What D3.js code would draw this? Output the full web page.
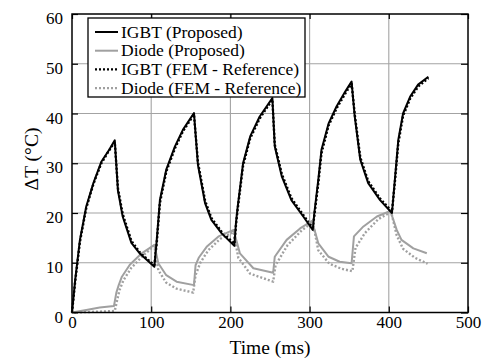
<!DOCTYPE html>
<html>
<head>
<meta charset="utf-8">
<script src="https://cdn.jsdelivr.net/npm/d3@7"></script>
<style>
  body { margin: 0; background: #fff; }
  svg text { font-family: "Liberation Serif", "Times New Roman", serif; }
</style>
</head>
<body>
<svg width="489" height="358"></svg>
<script>
// data: [time (ms), deltaT (C)]
let igbtProposed = [[0, 0], [4, 6.5], [10, 14.6], [18, 21.3], [27, 26], [37, 30.3], [47, 32.7], [54, 34.6],
    [58, 24.5], [64, 19.3], [75, 14], [86, 11.8], [104, 9.2],
    [107, 14.6], [111, 22.6], [119, 28.7], [130, 33.4], [140, 36.7], [154, 40.1],
    [159, 29.7], [168, 22], [176, 18.6], [189, 15.9], [205, 13.4],
    [207, 18], [209, 21], [216, 30], [225, 35.4], [237, 39.4], [253, 43.1],
    [256, 33.4], [265, 27.3], [277, 22.6], [292, 19.3], [304, 16.6],
    [306, 20], [311, 26.7], [315, 32.7], [324, 38], [334, 41.4], [345, 44.4], [353, 46.4],
    [357, 39.4], [364, 30.7], [374, 26], [389, 22.6], [404, 20],
    [408, 27.3], [412, 34.7], [418, 40], [427, 43.4], [437, 45.8], [450, 47.4]];
let igbtFem = [[0, 0], [4, 6.2], [10, 14.2], [18, 21.0], [27, 25.8], [37, 30.0], [47, 32.6], [54, 34.3],
    [58, 25.0], [64, 19.8], [75, 14.4], [86, 12.0], [104, 9.5],
    [107, 14.0], [111, 22.0], [119, 28.3], [130, 33.0], [140, 36.4], [154, 39.8],
    [159, 30.2], [168, 22.5], [176, 19.0], [189, 16.2], [205, 13.8],
    [207, 17.5], [209, 20.5], [216, 29.5], [225, 35.0], [237, 39.0], [253, 42.8],
    [256, 33.8], [265, 27.8], [277, 23.0], [292, 19.6], [304, 17.0],
    [306, 19.5], [311, 26.0], [315, 32.0], [324, 37.6], [334, 41.0], [345, 44.0], [353, 46.0],
    [357, 39.8], [364, 31.2], [374, 26.4], [389, 22.9], [404, 20.3],
    [408, 26.8], [412, 34.0], [418, 39.5], [427, 43.0], [437, 45.4], [450, 47.1]];
let diodeProposed = [[0, 0], [18, 0.5], [35, 1], [53, 1.3], [56, 4], [59, 5.5], [63, 7.2], [73, 9.6], [88, 11.9], [104, 13.6],
    [109, 9.9], [119, 7.5], [132, 6.2], [154, 5.5],
    [156, 9.5], [160, 11], [170, 13.2], [185, 15.3], [204, 16.6],
    [212, 11.9], [229, 8.9], [254, 8.0],
    [256, 11.2], [271, 14.6], [288, 16.9], [303, 18.4],
    [311, 13.9], [324, 11.2], [338, 10.2], [353, 9.9],
    [356, 15.3], [368, 17.3], [385, 19.3], [402, 20.4],
    [410, 16.6], [416, 14.6], [431, 12.9], [448, 11.9]];
let diodeFem = [[0, 0], [20, 0.1], [40, 0.2], [54, 0.3], [57, 2.5], [60, 4.5], [65, 6.5], [75, 9], [90, 11.5], [104, 13.4],
    [109, 8.5], [119, 6], [132, 4.8], [153, 4.0],
    [156, 7.5], [162, 10], [172, 12.5], [187, 14.8], [204, 16.2],
    [210, 11], [225, 7.8], [254, 6.2],
    [257, 9.5], [272, 13.5], [290, 16.5], [304, 18.2],
    [311, 12.5], [325, 9.8], [340, 8.8], [354, 8.3],
    [358, 13.0], [370, 16.0], [387, 18.8], [403, 20.2],
    [410, 15.5], [418, 12.8], [433, 11.0], [449, 9.8]];

let xTicks = [0, 100, 200, 300, 400, 500];
let yTicks = [0, 10, 20, 30, 40, 50, 60];
let legendLabels = ["IGBT (Proposed)", "Diode (Proposed)", "IGBT (FEM - Reference)", "Diode (FEM - Reference)"];

const serif = "'Liberation Serif', 'Times New Roman', serif";

let svg = d3.select("svg").attr("font-family", serif),
    margin = { top: 14, right: 21, bottom: 45.5, left: 72 },
    width = svg.attr("width") - margin.left - margin.right,
    height = svg.attr("height") - margin.top - margin.bottom,
    g = svg.append("g").attr("transform", "translate(" + margin.left + "," + margin.top + ")");

let x = d3.scaleLinear().domain([0, 500]).range([0, width]);
let y = d3.scaleLinear().domain([0, 60]).range([height, 0]);

// grid
g.append("g").selectAll("line")
    .data(xTicks.slice(1, -1)).enter().append("line")
    .attr("x1", d => x(d)).attr("x2", d => x(d))
    .attr("y1", 0).attr("y2", height)
    .attr("stroke", "#a3a3a3").attr("stroke-width", 1.1);
g.append("g").selectAll("line")
    .data(yTicks.slice(1, -1)).enter().append("line")
    .attr("x1", 0).attr("x2", width)
    .attr("y1", d => y(d)).attr("y2", d => y(d))
    .attr("stroke", "#a3a3a3").attr("stroke-width", 1.1);

// axes with inward ticks
function styleAxis(sel) {
    sel.attr("font-family", serif).attr("font-size", 17);
    sel.select(".domain").remove();
    sel.selectAll(".tick line").attr("stroke", "#000").attr("stroke-width", 1.2);
    sel.selectAll(".tick text").attr("fill", "#000");
}
g.append("g")
    .attr("transform", "translate(0," + height + ")")
    .call(d3.axisBottom(x).tickValues(xTicks).tickSize(-6).tickPadding(3).tickFormat(d3.format("d")))
    .call(styleAxis);
g.append("g")
    .call(d3.axisLeft(y).tickValues(yTicks).tickSize(-6).tickPadding(9).tickFormat(d3.format("d")))
    .call(styleAxis)
    .selectAll(".tick text").attr("dy", "0.56em");
g.append("g")
    .call(d3.axisTop(x).tickValues(xTicks).tickSize(-5).tickFormat(""))
    .call(styleAxis);
g.append("g")
    .attr("transform", "translate(" + width + ",0)")
    .call(d3.axisRight(y).tickValues(yTicks).tickSize(-7).tickFormat(""))
    .call(styleAxis);

// curves
let line = d3.line().x(d => x(d[0])).y(d => y(d[1]));
let series = [
    { data: diodeFem, color: "#a0a0a0", dash: "2,2" },
    { data: igbtFem, color: "#000", dash: "2,2" },
    { data: diodeProposed, color: "#a0a0a0", dash: null },
    { data: igbtProposed, color: "#000", dash: null }
];
g.selectAll(".curve")
    .data(series).enter().append("path")
    .attr("class", "curve")
    .attr("d", d => line(d.data))
    .attr("fill", "none")
    .attr("stroke", d => d.color)
    .attr("stroke-width", d => d.dash ? 2.4 : 2)
    .attr("stroke-dasharray", d => d.dash)
    .attr("stroke-linejoin", "round");

// frame
g.append("rect")
    .attr("width", width).attr("height", height)
    .attr("fill", "none").attr("stroke", "#000").attr("stroke-width", 1.5);

// legend
let legendStyles = [
    { color: "#000", dash: null },
    { color: "#a0a0a0", dash: null },
    { color: "#000", dash: "2,2" },
    { color: "#a0a0a0", dash: "2,2" }
];
let legend = g.append("g").attr("transform", "translate(16,4)");
legend.append("rect")
    .attr("width", 217).attr("height", 79)
    .attr("fill", "#fff").attr("stroke", "#000").attr("stroke-width", 1.3);
let item = legend.selectAll(".item")
    .data(legendLabels).enter().append("g")
    .attr("transform", (d, i) => "translate(0," + (14 + i * 18.7) + ")");
item.append("line")
    .attr("x1", 7).attr("x2", 30)
    .attr("stroke", (d, i) => legendStyles[i].color)
    .attr("stroke-width", (d, i) => legendStyles[i].dash ? 2.4 : 2)
    .attr("stroke-dasharray", (d, i) => legendStyles[i].dash);
item.append("text")
    .attr("x", 33).attr("dy", "0.33em")
    .attr("font-size", 17.5)
    .text(d => d);

// axis titles
svg.append("text")
    .attr("x", margin.left + width / 2).attr("y", 354)
    .attr("text-anchor", "middle")
    .attr("font-size", 19.5)
    .text("Time (ms)");
svg.append("text")
    .attr("transform", "translate(38," + (margin.top + 145) + ") rotate(-90)")
    .attr("text-anchor", "middle")
    .attr("font-size", 19.5)
    .text("ΔT (°C)");
</script>
</body>
</html>
